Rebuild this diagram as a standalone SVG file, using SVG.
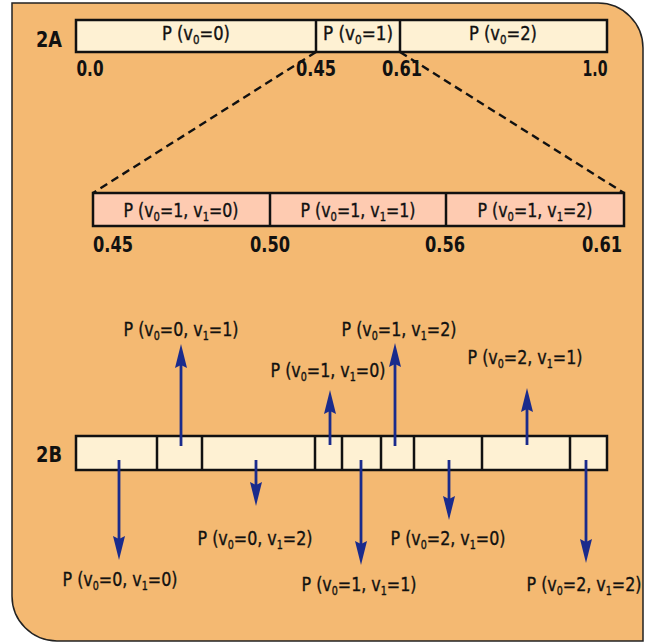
<svg xmlns="http://www.w3.org/2000/svg" width="649" height="642" viewBox="0 0 649 642">
<defs>
<style>
.t{font-family:"DejaVu Sans Condensed","DejaVu Sans",sans-serif;font-size:20px;fill:#111;stroke:#111;stroke-width:0.35;text-anchor:middle}
.b{font-size:19px}
.n{font-family:"DejaVu Sans Condensed","DejaVu Sans",sans-serif;font-size:22px;font-weight:bold;fill:#111;text-anchor:middle}
.lab{font-family:"DejaVu Sans Condensed","DejaVu Sans",sans-serif;font-size:21px;font-weight:bold;fill:#111}
.s{font-size:12px}
.bar{fill:#FEF1D3;stroke:#111;stroke-width:2.5}
.pink{fill:#FECBB1;stroke:#111;stroke-width:2.5}
.div{stroke:#111;stroke-width:2.5}
.dash{stroke:#111;stroke-width:2.4;stroke-dasharray:8 5;fill:none}
.arr{stroke:#1A2B8C;stroke-width:2.8;marker-end:url(#ah)}
</style>
<marker id="ah" viewBox="0 0 24 12" refX="10" refY="6" markerWidth="24" markerHeight="12" markerUnits="userSpaceOnUse" orient="auto">
<path d="M0,0 L24,6 L0,12 L3,6 Z" fill="#1A2B8C"/>
</marker>
</defs>
<path id="background" d="M12,3 H598 A45,45 0 0 1 643,48 V641 H57 A45,45 0 0 1 12,596 Z" fill="#F4B972" stroke="#222" stroke-width="1.5"/>

<g id="bar2A">
<text class="lab" x="36" y="47" textLength="26" lengthAdjust="spacingAndGlyphs">2A</text>
<rect class="bar" x="76" y="20" width="531" height="32"/>
<line class="div" x1="316" y1="20" x2="316" y2="52"/>
<line class="div" x1="400" y1="20" x2="400" y2="52"/>
<text class="t b" x="196" y="40" textLength="68" lengthAdjust="spacingAndGlyphs">P (v<tspan class="s" dy="4">0</tspan><tspan dy="-4">=0)</tspan></text>
<text class="t b" x="358" y="40" textLength="70" lengthAdjust="spacingAndGlyphs">P (v<tspan class="s" dy="4">0</tspan><tspan dy="-4">=1)</tspan></text>
<text class="t b" x="503" y="40" textLength="68" lengthAdjust="spacingAndGlyphs">P (v<tspan class="s" dy="4">0</tspan><tspan dy="-4">=2)</tspan></text>
<text class="n" x="90" y="76" textLength="27" lengthAdjust="spacingAndGlyphs">0.0</text>
<text class="n" x="316" y="76" textLength="40" lengthAdjust="spacingAndGlyphs">0.45</text>
<text class="n" x="402" y="76" textLength="40" lengthAdjust="spacingAndGlyphs">0.61</text>
<text class="n" x="595" y="76" textLength="25" lengthAdjust="spacingAndGlyphs">1.0</text>
</g>

<g id="bar2A-zoom">
<rect class="pink" x="93" y="193" width="531" height="33"/>
<line class="div" x1="270" y1="193" x2="270" y2="226"/>
<line class="div" x1="446" y1="193" x2="446" y2="226"/>
<text class="t b" x="181" y="217" textLength="115" lengthAdjust="spacingAndGlyphs">P (v<tspan class="s" dy="4">0</tspan><tspan dy="-4">=1, v</tspan><tspan class="s" dy="4">1</tspan><tspan dy="-4">=0)</tspan></text>
<text class="t b" x="358" y="217" textLength="115" lengthAdjust="spacingAndGlyphs">P (v<tspan class="s" dy="4">0</tspan><tspan dy="-4">=1, v</tspan><tspan class="s" dy="4">1</tspan><tspan dy="-4">=1)</tspan></text>
<text class="t b" x="535" y="217" textLength="115" lengthAdjust="spacingAndGlyphs">P (v<tspan class="s" dy="4">0</tspan><tspan dy="-4">=1, v</tspan><tspan class="s" dy="4">1</tspan><tspan dy="-4">=2)</tspan></text>
<text class="n" x="113" y="252" textLength="40" lengthAdjust="spacingAndGlyphs">0.45</text>
<text class="n" x="270" y="252" textLength="40" lengthAdjust="spacingAndGlyphs">0.50</text>
<text class="n" x="445" y="252" textLength="40" lengthAdjust="spacingAndGlyphs">0.56</text>
<text class="n" x="602" y="252" textLength="40" lengthAdjust="spacingAndGlyphs">0.61</text>
</g>

<g id="bar2B">
<text class="lab" x="36" y="462" textLength="26" lengthAdjust="spacingAndGlyphs">2B</text>
<rect class="bar" x="76" y="436" width="531" height="34"/>
<line class="div" x1="157" y1="436" x2="157" y2="470"/>
<line class="div" x1="202" y1="436" x2="202" y2="470"/>
<line class="div" x1="315" y1="436" x2="315" y2="470"/>
<line class="div" x1="342" y1="436" x2="342" y2="470"/>
<line class="div" x1="381" y1="436" x2="381" y2="470"/>
<line class="div" x1="414" y1="436" x2="414" y2="470"/>
<line class="div" x1="482" y1="436" x2="482" y2="470"/>
<line class="div" x1="570" y1="436" x2="570" y2="470"/>
</g>

<g id="labels2B">
<text class="t" x="181" y="336" textLength="115" lengthAdjust="spacingAndGlyphs">P (v<tspan class="s" dy="4">0</tspan><tspan dy="-4">=0, v</tspan><tspan class="s" dy="4">1</tspan><tspan dy="-4">=1)</tspan></text>
<text class="t" x="328" y="377" textLength="115" lengthAdjust="spacingAndGlyphs">P (v<tspan class="s" dy="4">0</tspan><tspan dy="-4">=1, v</tspan><tspan class="s" dy="4">1</tspan><tspan dy="-4">=0)</tspan></text>
<text class="t" x="399" y="336" textLength="115" lengthAdjust="spacingAndGlyphs">P (v<tspan class="s" dy="4">0</tspan><tspan dy="-4">=1, v</tspan><tspan class="s" dy="4">1</tspan><tspan dy="-4">=2)</tspan></text>
<text class="t" x="525" y="364" textLength="115" lengthAdjust="spacingAndGlyphs">P (v<tspan class="s" dy="4">0</tspan><tspan dy="-4">=2, v</tspan><tspan class="s" dy="4">1</tspan><tspan dy="-4">=1)</tspan></text>
<text class="t" x="120" y="586" textLength="115" lengthAdjust="spacingAndGlyphs">P (v<tspan class="s" dy="4">0</tspan><tspan dy="-4">=0, v</tspan><tspan class="s" dy="4">1</tspan><tspan dy="-4">=0)</tspan></text>
<text class="t" x="255" y="545" textLength="115" lengthAdjust="spacingAndGlyphs">P (v<tspan class="s" dy="4">0</tspan><tspan dy="-4">=0, v</tspan><tspan class="s" dy="4">1</tspan><tspan dy="-4">=2)</tspan></text>
<text class="t" x="359" y="591" textLength="115" lengthAdjust="spacingAndGlyphs">P (v<tspan class="s" dy="4">0</tspan><tspan dy="-4">=1, v</tspan><tspan class="s" dy="4">1</tspan><tspan dy="-4">=1)</tspan></text>
<text class="t" x="448" y="545" textLength="115" lengthAdjust="spacingAndGlyphs">P (v<tspan class="s" dy="4">0</tspan><tspan dy="-4">=2, v</tspan><tspan class="s" dy="4">1</tspan><tspan dy="-4">=0)</tspan></text>
<text class="t" x="584" y="591" textLength="115" lengthAdjust="spacingAndGlyphs">P (v<tspan class="s" dy="4">0</tspan><tspan dy="-4">=2, v</tspan><tspan class="s" dy="4">1</tspan><tspan dy="-4">=2)</tspan></text>
</g>

<g id="connectors">
<line class="dash" x1="316" y1="52" x2="93" y2="193"/>
<line class="dash" x1="400" y1="52" x2="624" y2="193"/>
<line class="arr" x1="181" y1="446" x2="181" y2="358"/>
<line class="arr" x1="330" y1="445" x2="330" y2="404"/>
<line class="arr" x1="395" y1="446" x2="395" y2="357"/>
<line class="arr" x1="527" y1="445" x2="527" y2="402"/>
<line class="arr" x1="119" y1="460" x2="119" y2="546"/>
<line class="arr" x1="256" y1="460" x2="256" y2="492"/>
<line class="arr" x1="361" y1="460" x2="361" y2="551"/>
<line class="arr" x1="449" y1="460" x2="449" y2="506"/>
<line class="arr" x1="586" y1="460" x2="586" y2="549"/>
</g>
</svg>
